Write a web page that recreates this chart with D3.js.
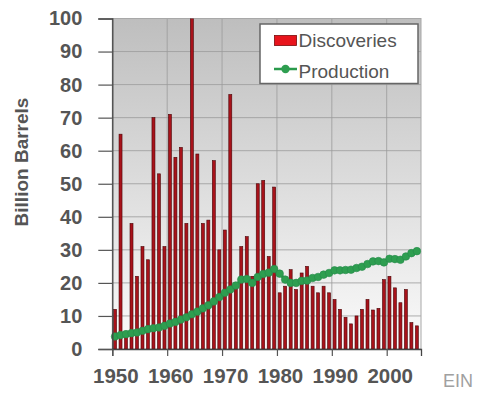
<!DOCTYPE html>
<html><head><meta charset="utf-8">
<script src="https://cdn.jsdelivr.net/npm/d3@7"></script>
<style>
html,body{margin:0;padding:0;background:#fff;}
svg{display:block;font-family:"Liberation Sans",Arial,sans-serif;}
</style></head>
<body><svg id="c" width="477" height="394"></svg>
<script>
const years = d3.range(1950, 2006);
const discoveries = [12,65,5,38,22,31,27,70,53,31,71,58,61,38,100,59,38,39,57,30,36,77,20,31,34,22,50,51,28,49,17,19,24,18,23,25,19,17,19,17,15,12,9.6,7.6,10,12,15,11.8,12.3,21,22,18.5,14,18,8,7];
const production = [3.8,4.2,4.5,4.8,5.0,5.5,6.0,6.3,6.5,7.0,7.7,8.2,8.9,9.6,10.5,11.3,12.3,13.2,14.4,15.7,17.0,18.0,19.2,21.0,21.2,20.0,21.8,22.7,23.1,24.2,22.8,21.0,20.0,20.0,20.6,20.7,21.5,21.8,22.5,23.0,23.8,23.8,23.9,24.0,24.5,24.9,25.7,26.5,26.6,26.2,27.3,27.2,27.0,28.0,29.0,29.6];
const yTicks = [0,10,20,30,40,50,60,70,80,90,100];
const xTicks = [1950,1960,1970,1980,1990,2000];
const seriesNames = ["Discoveries","Production"];

const svg = d3.select("#c");
const L = 112.3, R = 421, T = 18.5, B = 349;
const x = d3.scaleLinear().domain([1950, 2006.25]).range([L, R]);
const y = d3.scaleLinear().domain([0, 100]).range([B, T]);

const defs = svg.append("defs");
const g = defs.append("linearGradient").attr("id","bg").attr("x1",0).attr("y1",0).attr("x2",0).attr("y2",1);
g.append("stop").attr("offset","0%").attr("stop-color","#bebebe");
g.append("stop").attr("offset","100%").attr("stop-color","#fbfbfb");
defs.append("clipPath").attr("id","clip").append("rect").attr("x",L).attr("y",T).attr("width",R-L).attr("height",B-T);

svg.append("rect").attr("x",L).attr("y",T).attr("width",R-L).attr("height",B-T).attr("fill","url(#bg)");

// gridlines
svg.append("g").selectAll("line").data(yTicks.slice(1)).join("line")
  .attr("x1",L).attr("x2",R).attr("y1",d=>y(d)).attr("y2",d=>y(d))
  .attr("stroke","#9a9a9a").attr("stroke-width",0.8);
svg.append("g").selectAll("line").data(xTicks.slice(1)).join("line")
  .attr("y1",T).attr("y2",B).attr("x1",d=>x(d)).attr("x2",d=>x(d))
  .attr("stroke","#9a9a9a").attr("stroke-width",0.8);
svg.append("rect").attr("x",L).attr("y",T).attr("width",R-L).attr("height",B-T)
  .attr("fill","none").attr("stroke","#a8a8a8").attr("stroke-width",1);

// bars
const bw = 3;
svg.append("g").attr("clip-path","url(#clip)").selectAll("rect").data(years).join("rect")
  .attr("x",(d)=>x(d+0.5)-bw/2).attr("width",bw)
  .attr("y",(d,i)=>y(discoveries[i])).attr("height",(d,i)=>B-y(discoveries[i]))
  .attr("fill","#a8121a").attr("stroke","#4a0508").attr("stroke-width",0.6);

// production
const line = d3.line().x((d,i)=>x(years[i]+0.5)).y(d=>y(d));
svg.append("path").datum(production).attr("d",line).attr("fill","none")
  .attr("stroke","#2a9a4c").attr("stroke-width",3);
svg.append("g").selectAll("circle").data(production).join("circle")
  .attr("cx",(d,i)=>x(years[i]+0.5)).attr("cy",d=>y(d)).attr("r",3.8)
  .attr("fill","#2e9e50").attr("stroke","#25894a").attr("stroke-width",0.6);

// axes
const ya = svg.append("g").attr("transform",`translate(${L},0)`)
  .call(d3.axisLeft(y).tickValues(yTicks).tickSize(14).tickPadding(16));
ya.select(".domain").attr("stroke","#444").attr("stroke-width",1.3);
ya.selectAll(".tick line").attr("stroke","#555").attr("stroke-width",1.2);
ya.selectAll("text").attr("font-size",20).attr("font-weight","bold").attr("fill","#555")
  .attr("font-family","Liberation Sans, Arial, sans-serif");

const xa = svg.append("g").attr("transform",`translate(0,${B})`)
  .call(d3.axisBottom(x).tickValues(xTicks).tickFormat(d3.format("d")).tickSize(7).tickPadding(12));
xa.select(".domain").attr("stroke","#444").attr("stroke-width",1.3);
xa.selectAll(".tick line").attr("stroke","#555").attr("stroke-width",1.2);
xa.selectAll("text").attr("font-size",20.5).attr("font-weight","bold").attr("fill","#555")
  .attr("dx",3).attr("font-family","Liberation Sans, Arial, sans-serif");

// y title
svg.append("text").attr("transform","translate(28,162) rotate(-90)")
  .attr("text-anchor","middle").attr("font-size",19).attr("font-weight","bold")
  .attr("fill","#555").text("Billion Barrels");

// legend
const lg = svg.append("g");
lg.append("rect").attr("x",260).attr("y",24).attr("width",158).attr("height",59.5)
  .attr("fill","#fff").attr("stroke","#666").attr("stroke-width",1.5);
lg.append("rect").attr("x",274.5).attr("y",35.5).attr("width",22).attr("height",10)
  .attr("fill","#e8141c").attr("stroke","#7a0a0a").attr("stroke-width",0.8);
lg.append("text").attr("x",298.5).attr("y",46.5).attr("font-size",19).attr("fill","#555").text(seriesNames[0]);
lg.append("line").attr("x1",274).attr("x2",297).attr("y1",69).attr("y2",69).attr("stroke","#2a9a4c").attr("stroke-width",2.5);
lg.append("circle").attr("cx",285.5).attr("cy",69).attr("r",4.2).attr("fill","#2e9e50");
lg.append("text").attr("x",298.5).attr("y",78).attr("font-size",19).attr("fill","#555").text(seriesNames[1]);

// watermark fragment
svg.append("text").attr("x",443).attr("y",387).attr("font-size",18).attr("fill","#a0a0a0").text("EIN");
</script></body></html>
